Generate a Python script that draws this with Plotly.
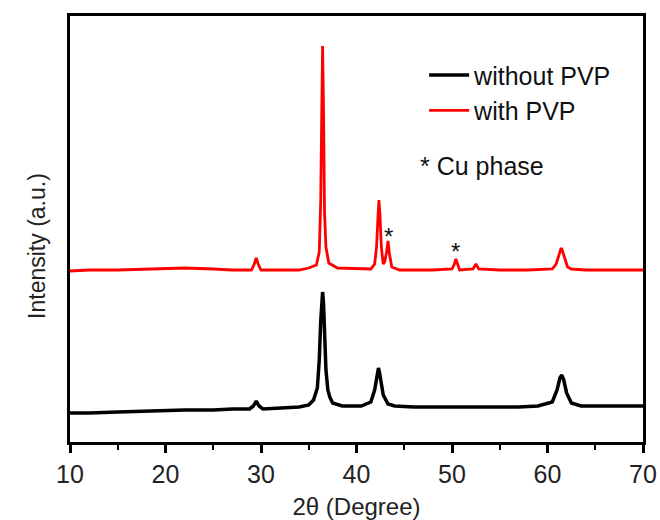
import plotly.graph_objects as go

# 2theta positions and intensities (arbitrary units)
x_without = [10, 12, 15, 18, 20, 22, 25, 27, 28.8, 29.2, 29.5, 29.8, 30.2, 32, 34, 35, 35.5, 35.9, 36.1, 36.25,
             36.35, 36.45, 36.55, 36.65, 36.8, 37.0, 37.2, 37.5, 38.5, 40.5, 41.5, 41.9, 42.1, 42.2, 42.3, 42.4,
             42.55, 42.8, 43.3, 44, 46, 48, 50, 52, 55, 57, 59, 60.5, 61.0, 61.3, 61.5, 61.7, 62.0, 62.5,
             63.5, 65, 67, 70]
y_without = [29, 29, 30, 31, 31, 32, 32, 33, 33, 36, 41, 36, 33, 34, 35, 37, 42, 54, 82, 120,
             140, 150, 138, 110, 72, 52, 45, 39, 36, 36, 40, 52, 62, 70, 74, 70,
             62, 47, 38, 36, 35, 35, 35, 35, 35, 35, 36, 40, 52, 64, 67, 62, 49, 39,
             36, 36, 36, 36]

x_with = [10, 12, 15, 18, 20, 22, 25, 27, 29.0, 29.3, 29.5, 29.7, 30.0, 32, 34, 35, 35.8, 36.1, 36.25, 36.35,
          36.45, 36.55, 36.65, 36.8, 37.1, 38, 40, 41.5, 41.9, 42.1, 42.25, 42.35, 42.45, 42.6, 42.8, 42.95,
          43.15, 43.3, 43.45, 43.7, 44.5, 46, 48, 50.0, 50.25, 50.4, 50.55, 50.8, 52.2, 52.5, 52.8,
          55, 58, 60.5, 60.9, 61.2, 61.4, 61.5, 61.6, 61.8, 62.1, 62.5, 64, 67, 70]
y_with = [171, 172, 172, 173, 174, 174, 173, 172, 172, 178, 184, 178, 172, 172, 172, 174, 177, 190, 240, 320,
          396, 330, 230, 195, 179, 174, 173, 173, 178, 195, 225, 242, 228, 195, 178, 180,
          190, 201, 188, 175, 172, 172, 172, 173, 178, 183, 178, 172, 173, 178, 173,
          172, 172, 173, 178, 188, 193, 193, 190, 182, 175, 173, 172, 172, 172]

x_ticks = [10, 20, 30, 40, 50, 60, 70]
series_names = ["without PVP", "with PVP"]

FONT = "Arial, Liberation Sans, sans-serif"

fig = go.Figure()
fig.add_trace(go.Scatter(x=x_without, y=y_without, mode="lines", name=series_names[0],
                         line=dict(color="#000000", width=3.5)))
fig.add_trace(go.Scatter(x=x_with, y=y_with, mode="lines", name=series_names[1],
                         line=dict(color="#ff0000", width=2.8)))

fig.add_annotation(x=43.35, y=206, text="*", showarrow=False, font=dict(size=24, color="#111", family=FONT))
fig.add_annotation(x=50.4, y=191, text="*", showarrow=False, font=dict(size=24, color="#111", family=FONT))
fig.add_annotation(x=53.1, y=276, text="* Cu phase", showarrow=False, font=dict(size=25, color="#111", family=FONT))
fig.add_annotation(x=-0.084, y=0.46, xref="paper", yref="paper", text="Intensity (a.u.)", textangle=-90,
                   showarrow=False, font=dict(size=23, color="#222", family=FONT))

fig.update_layout(
    width=660, height=520,
    margin=dict(l=70, r=17, t=16, b=78),
    paper_bgcolor="white", plot_bgcolor="white",
    font=dict(family=FONT, size=24, color="#222"),
    showlegend=True,
    legend=dict(x=0.618, y=0.915, xanchor="left", yanchor="top", bgcolor="rgba(0,0,0,0)",
                font=dict(size=25, color="#111", family=FONT), itemwidth=40, tracegroupgap=0),
    xaxis=dict(range=[10, 70], tickvals=x_ticks, ticks="outside", ticklen=8, tickwidth=2.5,
               tickcolor="black", showline=True, linecolor="black", linewidth=2.5, mirror=True,
               showgrid=False, zeroline=False, tickfont=dict(size=25, color="#222"), automargin=False,
               minor=dict(dtick=5, tick0=5, ticks="outside", ticklen=5, tickwidth=2, tickcolor="black"),
               title=dict(text="2θ (Degree)", font=dict(size=24, color="#222"))),
    yaxis=dict(range=[0, 426], showticklabels=False, ticks="", showline=True, linecolor="black",
               linewidth=2.5, mirror=True, showgrid=False, zeroline=False, automargin=False),
)

fig.write_html("out.html", post_script="document.body.style.margin='0';",
               config={"displayModeBar": False})
